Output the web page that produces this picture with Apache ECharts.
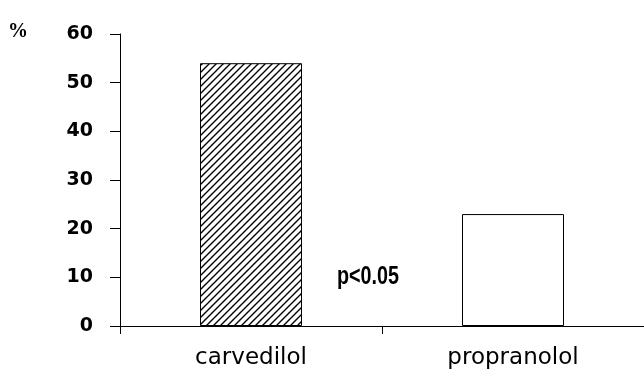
<!DOCTYPE html>
<html><head><meta charset="utf-8">
<script src="https://cdn.jsdelivr.net/npm/echarts@6/dist/echarts.min.js"></script>
<style>html,body{margin:0;padding:0;background:#fff}#c{width:644px;height:376px}</style>
</head><body><div id="c"></div>
<script>
const categories = ['carvedilol', 'propranolol'];
const values = [54, 23];
const yTicks = [0, 10, 20, 30, 40, 50, 60];
const annotation = 'p<0.05';
const yUnit = '%';

function hatch() {
  const s = 7;
  const c = document.createElement('canvas');
  c.width = s; c.height = s;
  const g = c.getContext('2d');
  g.fillStyle = '#fff'; g.fillRect(0, 0, s, s);
  g.strokeStyle = '#000'; g.lineWidth = 1.4;
  g.beginPath();
  g.moveTo(-1, s + 1); g.lineTo(s + 1, -1);
  g.moveTo(-1, 1); g.lineTo(1, -1);
  g.moveTo(s - 1, s + 1); g.lineTo(s + 1, s - 1);
  g.stroke();
  return c;
}

const chart = echarts.init(document.getElementById('c'), null, {renderer: 'canvas'});
chart.setOption({
  animation: false,
  backgroundColor: '#fff',
  grid: {left: 120, right: 0, top: 34, bottom: 50},
  xAxis: {
    type: 'category', data: categories,
    axisLine: {lineStyle: {color: '#000', width: 1}},
    axisTick: {show: true, length: 8, lineStyle: {color: '#000'}},
    axisLabel: {color: '#000', fontFamily: 'DejaVu Sans', fontSize: 23, margin: 21}
  },
  yAxis: {
    type: 'value', min: yTicks[0], max: yTicks[yTicks.length - 1], interval: 10,
    splitLine: {show: false},
    axisLine: {show: true, lineStyle: {color: '#000', width: 1}},
    axisTick: {show: true, length: 10, lineStyle: {color: '#000'}},
    axisLabel: {color: '#000', fontFamily: 'DejaVu Sans', fontWeight: 'bold', fontSize: 19, margin: 27}
  },
  series: [{
    type: 'bar', barWidth: 102,
    data: values.map((v, i) => ({
      value: v,
      itemStyle: i === 0
        ? {color: {image: hatch(), repeat: 'repeat'}, borderColor: '#000', borderWidth: 1}
        : {color: '#fff', borderColor: '#000', borderWidth: 1}
    }))
  }],
  graphic: [
    {type: 'text', x: 8, y: 22, style: {text: yUnit, fontFamily: 'Liberation Serif', fontWeight: 'bold', fontSize: 20, fill: '#000'}},
    {type: 'text', x: 337, y: 265, scaleX: 0.79, style: {text: annotation, fontFamily: 'Liberation Sans', fontWeight: 'bold', fontSize: 25, fill: '#000'}}
  ]
});
</script></body></html>
